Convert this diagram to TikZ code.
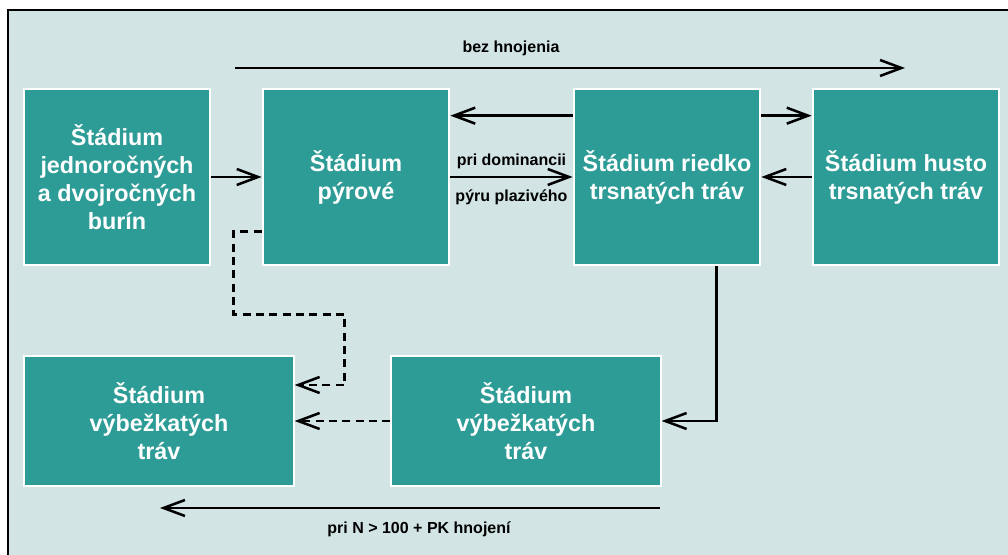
\documentclass[tikz,border=0pt]{standalone}
\usepackage{fontspec}
\setmainfont{Liberation Sans}
\usetikzlibrary{arrows.meta}
\definecolor{stagegreen}{HTML}{2E9C96}
\definecolor{panelgray}{HTML}{D3E4E4}

\begin{document}
\begin{tikzpicture}[x=0.75pt, y=-0.75pt, >={Straight Barb[length=16pt,width=12pt]}, line width=1.9pt,
  stage/.style={draw=white, line width=1.5pt, fill=stagegreen, text=white, align=center,
    font=\bfseries\fontsize{17.5}{21}\selectfont, inner sep=0pt},
  upper/.style={stage, minimum width=140pt, minimum height=132pt},
  lower/.style={stage, minimum width=202pt, minimum height=97pt},
  cond/.style={font=\bfseries\fontsize{12}{14}\selectfont, inner sep=1pt}]
  \useasboundingbox (0,0) rectangle (1008,555);

  % panel
  \fill[panelgray] (8,10) rectangle (1008,555);
  \draw[line width=2.2pt] (8,555) -- (8,10) -- (1008,10);

  % stages
  \node[upper] (b1) at (117,177) {Štádium\\jednoročných\\a dvojročných\\burín};
  \node[upper] (b2) at (356,177) {Štádium\\pýrové};
  \node[upper] (b3) at (667,177) {Štádium riedko\\trsnatých tráv};
  \node[upper] (b4) at (906,177) {Štádium husto\\trsnatých tráv};
  \node[lower] (b5) at (159,421) {Štádium\\výbežkatých\\tráv};
  \node[lower] (b6) at (526,421) {Štádium\\výbežkatých\\tráv};

  % transitions
  \draw[->] (b1.east) -- (b2.west);
  \draw[->] ([yshift=46pt]b3.west) -- ([yshift=46pt]b2.east);
  \draw[->] (b2.east) -- (b3.west)
    node[midway, above=4pt, cond] {pri dominancii}
    node[midway, below=8pt, cond] {pýru plazivého};
  \draw[->] ([yshift=46pt]b3.east) -- ([yshift=46pt]b4.west);
  \draw[->] (b4.west) -- (b3.east);
  \draw[->] ([xshift=37pt]b3.south) |- (b6.east);
  \draw[->, dashed, dash pattern=on 6pt off 4pt] ([yshift=-41pt]b2.west) -- ++(-28,0) -- ++(0,83) -- ++(111,0) |- ([yshift=27pt]b5.east);
  \draw[->, dashed, dash pattern=on 6pt off 4pt] (b6.west) -- (b5.east);

  % fertilisation
  \coordinate (topL) at (235,68);
  \coordinate (topR) at (905,68);
  \draw[->] (topL) -- (topR);
  \node[cond] (nofert) at (511,48) {bez hnojenia};
  \coordinate (botR) at (660,508);
  \coordinate (botL) at (160,508);
  \draw[->] (botR) -- (botL);
  \node[cond] (fert) at (419,529) {pri N > 100 + PK hnojení};
\end{tikzpicture}
\end{document}
